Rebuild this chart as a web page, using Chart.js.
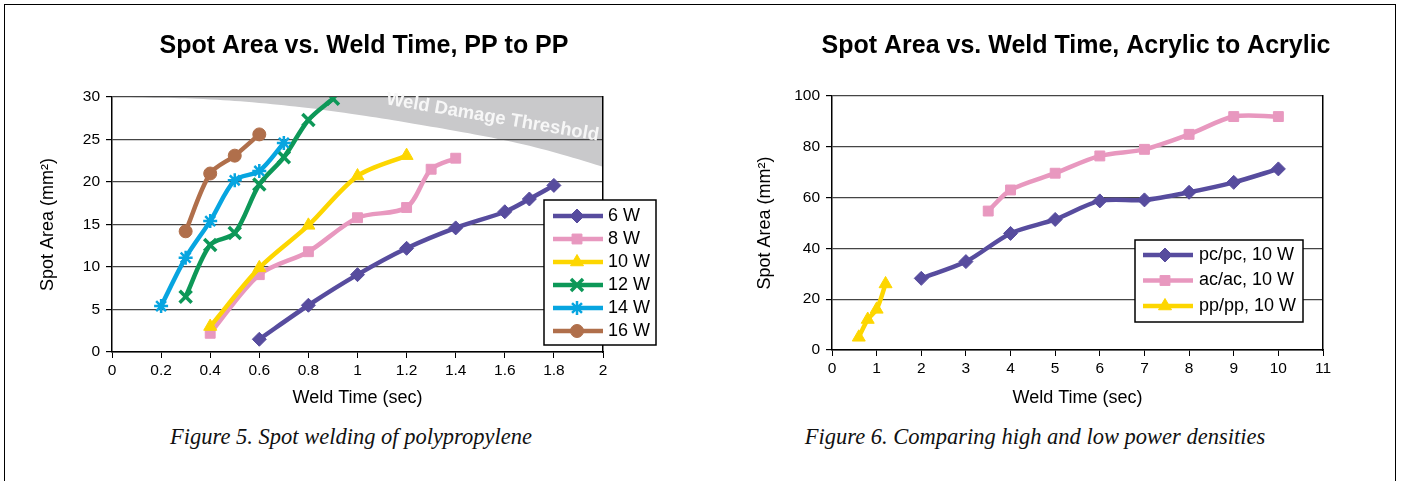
<!DOCTYPE html>
<html>
<head>
<meta charset="utf-8">
<script src="https://cdn.jsdelivr.net/npm/chart.js@4/dist/chart.umd.min.js"></script>
<style>
  body { margin: 0; background: #fff; width: 1401px; height: 481px; overflow: hidden; position: relative; }
  #frame { position: absolute; left: 4px; top: 4px; width: 1390px; height: 500px; border: 1.5px solid #000; border-bottom: none; }
  canvas { position: absolute; top: 0; }
  #c1 { left: 0; }
  #c2 { left: 751px; }
  .cap { position: absolute; top: 424px; font: italic 22.5px "Liberation Serif", "Times New Roman", serif; color: #111; white-space: nowrap; transform: translateX(-50%); }
</style>
</head>
<body>
<div id="frame"></div>
<canvas id="c1" width="728" height="420"></canvas>
<canvas id="c2" width="650" height="420"></canvas>
<div class="cap" style="left:351px">Figure 5. Spot welding of polypropylene</div>
<div class="cap" style="left:1035px">Figure 6. Comparing high and low power densities</div>
<script>
// ---- left chart: PP to PP, weld time (sec) vs spot area (mm2)
const W6_X  = [0.6, 0.8, 1.0, 1.2, 1.4, 1.6, 1.7, 1.8]
const W6_Y  = [1.5, 5.5, 9.1, 12.2, 14.6, 16.5, 18.0, 19.6]
const W8_X  = [0.4, 0.6, 0.8, 1.0, 1.2, 1.3, 1.4]
const W8_Y  = [2.2, 9.1, 11.8, 15.8, 17.0, 21.5, 22.8]
const W10_X = [0.4, 0.6, 0.8, 1.0, 1.2]
const W10_Y = [3.0, 9.9, 14.9, 20.7, 23.1]
const W12_X = [0.3, 0.4, 0.5, 0.6, 0.7, 0.8, 0.9]
const W12_Y = [6.5, 12.6, 14.0, 19.7, 22.9, 27.3, 29.8]
const W14_X = [0.2, 0.3, 0.4, 0.5, 0.6, 0.7]
const W14_Y = [5.4, 11.1, 15.4, 20.2, 21.3, 24.6]
const W16_X = [0.3, 0.4, 0.5, 0.6]
const W16_Y = [14.2, 21.0, 23.1, 25.6]
const THRESH_X = [0, 0.2, 0.4, 0.6, 0.8, 1.0, 1.2, 1.4, 1.6, 1.8, 2.0]
const THRESH_Y = [30, 29.9, 29.7, 29.3, 28.7, 27.9, 27.0, 26.0, 24.9, 23.5, 21.8]
const PP_LABELS = ['6 W', '8 W', '10 W', '12 W', '14 W', '16 W']

// ---- right chart: acrylic comparison
const PC_X = [2, 3, 4, 5, 6, 7, 8, 9, 10]
const PC_Y = [28.2, 34.8, 45.9, 51.4, 58.7, 59.1, 62.1, 66.0, 71.3]
const AC_X = [3.5, 4, 5, 6, 7, 8, 9, 10]
const AC_Y = [54.7, 63.0, 69.6, 76.4, 79.0, 84.9, 91.9, 91.9]
const PPR_X = [0.6, 0.8, 1.0, 1.2]
const PPR_Y = [5, 12, 16, 26]
const AC_LABELS = ['pc/pc, 10 W', 'ac/ac, 10 W', 'pp/pp, 10 W']

const FONT = '"Liberation Sans", Arial, sans-serif'
const PURPLE = '#574c9e', PINK = '#e898bf', YELLOW = '#fdd600'
const GREEN = '#0d9858', BLUE = '#07a5e0', BROWN = '#b06f4b'

function series(label, xs, ys, color, style, radius, bw, order) {
    return {
        label,
        data: xs.map((x, i) => ({x: x, y: ys[i]})),
        borderColor: color,
        backgroundColor: color,
        pointBackgroundColor: color,
        pointBorderColor: color,
        pointStyle: style,
        pointRadius: radius,
        pointBorderWidth: bw,
        borderWidth: 4.5,
        tension: 0.3,
        fill: false,
        order: order
    }
}

// legend with a line sample + marker, like the spreadsheet one
const lineLegend = {
    id: 'lineLegend',
    afterDraw(chart, args, o) {
        const {ctx, chartArea} = chart
        const x0 = chartArea.right + o.dx, y0 = chartArea.top + o.dy
        ctx.save()
        ctx.fillStyle = '#fff'
        ctx.fillRect(x0, y0, o.w, o.h)
        ctx.strokeStyle = '#000'
        ctx.lineWidth = 1.5
        ctx.strokeRect(x0, y0, o.w, o.h)
        let row = 0
        chart.data.datasets.forEach(ds => {
            if (ds.noLegend) return
            const y = y0 + o.first + row * o.step
            ctx.strokeStyle = ds.borderColor
            ctx.lineWidth = ds.borderWidth
            ctx.beginPath()
            ctx.moveTo(x0 + o.lineFrom, y)
            ctx.lineTo(x0 + o.lineTo, y)
            ctx.stroke()
            ctx.fillStyle = ds.pointBackgroundColor
            ctx.strokeStyle = ds.pointBorderColor
            ctx.lineWidth = ds.pointBorderWidth
            Chart.helpers.drawPoint(ctx, {pointStyle: ds.pointStyle, radius: ds.pointRadius, borderWidth: ds.pointBorderWidth, rotation: 0}, x0 + o.marker, y)
            ctx.fillStyle = '#000'
            ctx.font = o.font
            ctx.textBaseline = 'middle'
            ctx.textAlign = 'left'
            ctx.fillText(ds.label, x0 + o.text, y)
            row++
        })
        ctx.restore()
    }
}

const thresholdText = {
    id: 'thresholdText',
    beforeDatasetsDraw(chart, args, o) {
        if (!o.text) return
        const {ctx, scales} = chart
        ctx.save()
        ctx.translate(scales.x.getPixelForValue(o.x), scales.y.getPixelForValue(o.y))
        ctx.rotate(o.angle)
        ctx.font = o.font
        ctx.fillStyle = '#f7f7f7'
        ctx.textAlign = 'center'
        ctx.textBaseline = 'middle'
        ctx.fillText(o.text, 0, 0)
        ctx.restore()
    }
}

function makeOptions(cfg) {
    return {
        responsive: false,
        animation: false,
        events: [],
        layout: {padding: {left: 0, right: 0, top: 0, bottom: 7}},
        plugins: {
            legend: {display: false},
            tooltip: {enabled: false},
            filler: {drawTime: 'beforeDraw'},
            title: {
                display: true,
                text: cfg.title,
                color: '#000',
                font: {family: FONT, size: 25, weight: 'bold'},
                padding: {top: 31, bottom: cfg.top - 31 - 30}
            },
            lineLegend: cfg.legend,
            thresholdText: cfg.thresh || {}
        },
        scales: {
            x: {
                type: 'linear',
                min: 0, max: cfg.xMax,
                afterFit: s => { s.height = cfg.xH },
                ticks: {stepSize: cfg.xStep, color: '#000', padding: 3, font: {family: FONT, size: 15.5},
                        callback: v => +v.toFixed(1)},
                grid: {drawOnChartArea: false, drawTicks: true, tickLength: 6, color: '#000'},
                border: {color: '#000', width: 1.5},
                title: {display: true, text: 'Weld Time (sec)', color: '#000', font: {family: FONT, size: 18}, padding: {top: 4, bottom: 4}}
            },
            y: {
                min: 0, max: cfg.yMax,
                afterFit: s => { s.width = cfg.yW },
                ticks: {stepSize: cfg.yStep, color: '#000', padding: 6, font: {family: FONT, size: 15.5}},
                grid: {color: '#454545', tickColor: '#000', tickLength: 6, lineWidth: 1.2},
                border: {color: '#000', width: 1.5},
                title: {display: true, text: 'Spot Area (mm²)', color: '#000', font: {family: FONT, size: 18}, padding: {top: cfg.yTitlePad, bottom: 0}}
            },
            yR: {
                position: 'right',
                display: true,
                afterFit: s => { s.width = cfg.rightW },
                ticks: {display: false},
                grid: {display: false},
                border: {display: true, color: '#000', width: 1.5}
            }
        }
    }
}

// ---- chart 1
const ppDatasets = [
    series(PP_LABELS[0], W6_X, W6_Y, PURPLE, 'rectRot', 7, 1, 6),
    series(PP_LABELS[1], W8_X, W8_Y, PINK, 'rect', 7, 1, 5),
    series(PP_LABELS[2], W10_X, W10_Y, YELLOW, 'triangle', 7.5, 1, 4),
    series(PP_LABELS[3], W12_X, W12_Y, GREEN, 'crossRot', 8.5, 3.5, 3),
    series(PP_LABELS[4], W14_X, W14_Y, BLUE, 'star', 7, 2.5, 2),
    series(PP_LABELS[5], W16_X, W16_Y, BROWN, 'circle', 6.5, 1, 1),
    {
        label: 'Weld Damage Threshold',
        data: THRESH_X.map((x, i) => ({x: x, y: THRESH_Y[i]})),
        borderWidth: 0,
        pointRadius: 0,
        backgroundColor: '#c9c9cb',
        fill: 'end',
        tension: 0.4,
        noLegend: true,
        order: 99
    }
]

new Chart(document.getElementById('c1'), {
    type: 'line',
    data: {datasets: ppDatasets},
    options: makeOptions({
        title: 'Spot Area vs. Weld Time, PP to PP',
        top: 97, xMax: 2, xStep: 0.2, yMax: 30, yStep: 5,
        xH: 61, yW: 112, rightW: 125, yTitlePad: 37.4,
        legend: {dx: -59, dy: 103, w: 112, h: 145, first: 16, step: 23,
                 lineFrom: 9, lineTo: 59, marker: 33, text: 64, font: '18px ' + FONT},
        thresh: {text: 'Weld Damage Threshold', x: 1.55, y: 27.6, angle: 0.17, font: 'bold 18.5px ' + FONT}
    }),
    plugins: [lineLegend, thresholdText]
})

// ---- chart 2
const acDatasets = [
    series(AC_LABELS[0], PC_X, PC_Y, PURPLE, 'rectRot', 7, 1, 3),
    series(AC_LABELS[1], AC_X, AC_Y, PINK, 'rect', 7, 1, 2),
    series(AC_LABELS[2], PPR_X, PPR_Y, YELLOW, 'triangle', 7.5, 1, 1)
]

new Chart(document.getElementById('c2'), {
    type: 'line',
    data: {datasets: acDatasets},
    options: makeOptions({
        title: 'Spot Area vs. Weld Time, Acrylic to Acrylic',
        top: 96, xMax: 11, xStep: 1, yMax: 100, yStep: 20,
        xH: 63, yW: 81, rightW: 78, yTitlePad: 3.4,
        legend: {dx: -188, dy: 144, w: 168, h: 82, first: 15, step: 25.5,
                 lineFrom: 8, lineTo: 58, marker: 30, text: 64, font: '18px ' + FONT}
    }),
    plugins: [lineLegend, thresholdText]
})
</script>
</body>
</html>
